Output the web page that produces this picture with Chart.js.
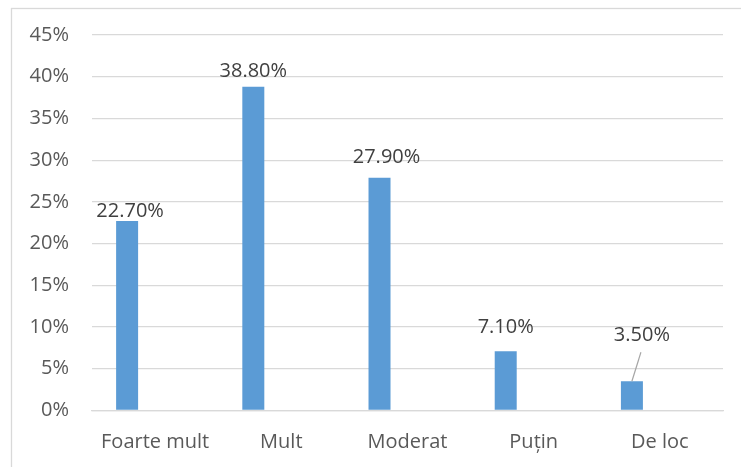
<!DOCTYPE html>
<html>
<head>
<meta charset="utf-8">
<script src="https://cdn.jsdelivr.net/npm/chart.js@4"></script>
<style>
  html, body { margin: 0; padding: 0; background: #ffffff; }
  #wrap { position: relative; width: 741px; height: 467px; }
</style>
</head>
<body>
<div id="wrap"><canvas id="c" width="741" height="467"></canvas></div>
<script>
const categories = ["Foarte mult", "Mult", "Moderat", "Puțin", "De loc"];
const values = [22.7, 38.8, 27.9, 7.1, 3.5];
const emptySeries = [null, null, null, null, null];
const yTicks = [0, 5, 10, 15, 20, 25, 30, 35, 40, 45];

const FONT = "'Open Sans', 'Liberation Sans', sans-serif";

// label placement tweaks (style only): [dx, gap above bar top]
const labelPlacement = [[3, 4], [0, 10], [7, 15], [0, 18], [10, 40]];

const frame = {
  id: 'frame',
  beforeDraw(chart) {
    const ctx = chart.ctx;
    ctx.save();
    ctx.fillStyle = '#ffffff';
    ctx.fillRect(0, 0, chart.width, chart.height);
    ctx.strokeStyle = '#d9d9d9';
    ctx.lineWidth = 1.3;
    ctx.strokeRect(11.5, 8.5, 760, 500);
    ctx.restore();
  }
};

const dataLabels = {
  id: 'dataLabels',
  afterDatasetsDraw(chart) {
    const ctx = chart.ctx;
    const meta = chart.getDatasetMeta(0);
    ctx.save();
    ctx.font = "20px " + FONT;
    ctx.fillStyle = '#404040';
    ctx.textAlign = 'center';
    ctx.textBaseline = 'alphabetic';
    meta.data.forEach((bar, i) => {
      const v = values[i];
      const [dx, gap] = labelPlacement[i];
      const tx = bar.x + dx;
      const ty = bar.y - gap;
      ctx.fillText(v.toFixed(2) + '%', tx, ty);
      if (gap > 30) {
        ctx.strokeStyle = '#a6a6a6';
        ctx.lineWidth = 1.2;
        ctx.beginPath();
        ctx.moveTo(tx - 1, ty + 11);
        ctx.lineTo(bar.x, bar.y);
        ctx.stroke();
      }
    });
    ctx.restore();
  }
};

new Chart(document.getElementById('c'), {
  type: 'bar',
  data: {
    labels: categories,
    datasets: [
      { data: values, backgroundColor: '#5b9bd5', borderWidth: 0,
        categoryPercentage: 0.887, barPercentage: 0.393 },
      { data: emptySeries, backgroundColor: '#ed7d31', borderWidth: 0,
        categoryPercentage: 0.887, barPercentage: 0.393 }
    ]
  },
  options: {
    responsive: false,
    animation: false,
    devicePixelRatio: 1,
    layout: { padding: { top: 31.5, right: 18, left: 0, bottom: 0 } },
    plugins: { legend: { display: false }, tooltip: { enabled: false } },
    scales: {
      x: {
        grid: { display: false, drawTicks: false },
        border: { display: true, color: '#d9d9d9', width: 1.3 },
        ticks: { color: '#595959', font: { family: FONT, size: 20 }, padding: 20, maxRotation: 0 },
        afterFit(scale) { scale.height = 56.5; }
      },
      y: {
        min: 0, max: 45,
        afterBuildTicks(scale) { scale.ticks = yTicks.map(v => ({ value: v })); },
        grid: { color: '#d9d9d9', lineWidth: 1.3, drawTicks: false },
        border: { display: false },
        ticks: { color: '#595959', font: { family: FONT, size: 20 }, padding: 23,
                 callback: v => v + '%' },
        afterFit(scale) { scale.width = 92; }
      }
    }
  },
  plugins: [frame, dataLabels]
});
</script>
</body>
</html>
